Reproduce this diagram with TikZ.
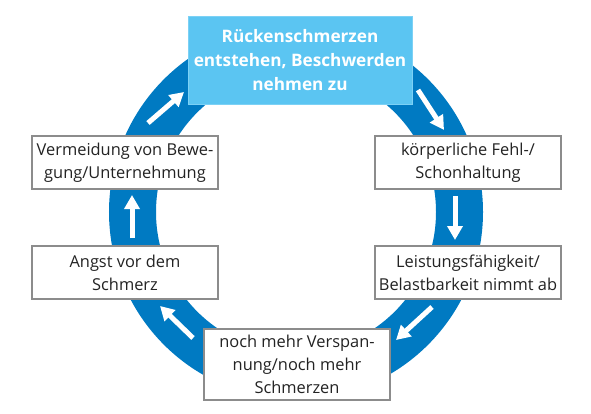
\documentclass[tikz,border=0pt]{standalone}
\usepackage{fontspec}
\setmainfont{Open Sans}
\usetikzlibrary{arrows.meta}
\definecolor{ringblue}{RGB}{0,122,194}
\definecolor{topblue}{RGB}{91,197,242}
\definecolor{boxgray}{RGB}{140,140,140}
\definecolor{txtgray}{RGB}{35,35,35}
\tikzset{
  cyclebox/.style={draw=boxgray, line width=1.1pt, fill=white, text=txtgray,
    minimum width=186pt, minimum height=53pt, inner sep=0pt, align=center,
    font=\fontsize{16.4}{23}\selectfont},
  headbox/.style={draw=topblue!80!white, line width=1pt, fill=topblue, text=white,
    minimum width=224pt, minimum height=88pt, inner sep=0pt, align=center,
    font=\fontsize{17.2}{24}\selectfont\bfseries},
  ringarrow/.style={draw=white, line width=5pt,
    -{Triangle[width=15pt,length=14pt]}}
}
\begin{document}
\begin{tikzpicture}[x=1pt,y=-1pt]
\useasboundingbox (0,0) rectangle (591,413);
% ring
\draw[ringblue, line width=47pt] (296,212) ellipse [x radius=163.5, y radius=164];
% arrows
\coordinate (a1s) at (148,123); \coordinate (a1e) at (184,92);
\coordinate (a2s) at (418,90);  \coordinate (a2e) at (444,130);
\coordinate (a3s) at (455,196); \coordinate (a3e) at (455,240);
\coordinate (a4s) at (432,307); \coordinate (a4e) at (396,340);
\coordinate (a5s) at (193,338); \coordinate (a5e) at (160,306);
\coordinate (a6s) at (132,238); \coordinate (a6e) at (132,195);
\draw[ringarrow] (a1s) -- (a1e);
\draw[ringarrow] (a2s) -- (a2e);
\draw[ringarrow] (a3s) -- (a3e);
\draw[ringarrow] (a4s) -- (a4e);
\draw[ringarrow] (a5s) -- (a5e);
\draw[ringarrow] (a6s) -- (a6e);
% boxes
\node[headbox] (top) at (300,60) {Rückenschmerzen\\entstehen, Beschwerden\\nehmen zu};
\node[cyclebox] (koerp) at (468,162.5) {körperliche Fehl-/\\Schonhaltung};
\node[cyclebox] (leist) at (468,272.5) {Leistungsfähigkeit/\\Belastbarkeit nimmt ab};
\node[cyclebox, minimum height=71pt] (mehr) at (297,364.5) {noch mehr Verspan-\\nung/noch mehr\\Schmerzen};
\node[cyclebox] (angst) at (125,272.5) {Angst vor dem\\Schmerz};
\node[cyclebox] (verm) at (125,162.5) {Vermeidung von Bewe-\\gung/Unternehmung};
\end{tikzpicture}
\end{document}
